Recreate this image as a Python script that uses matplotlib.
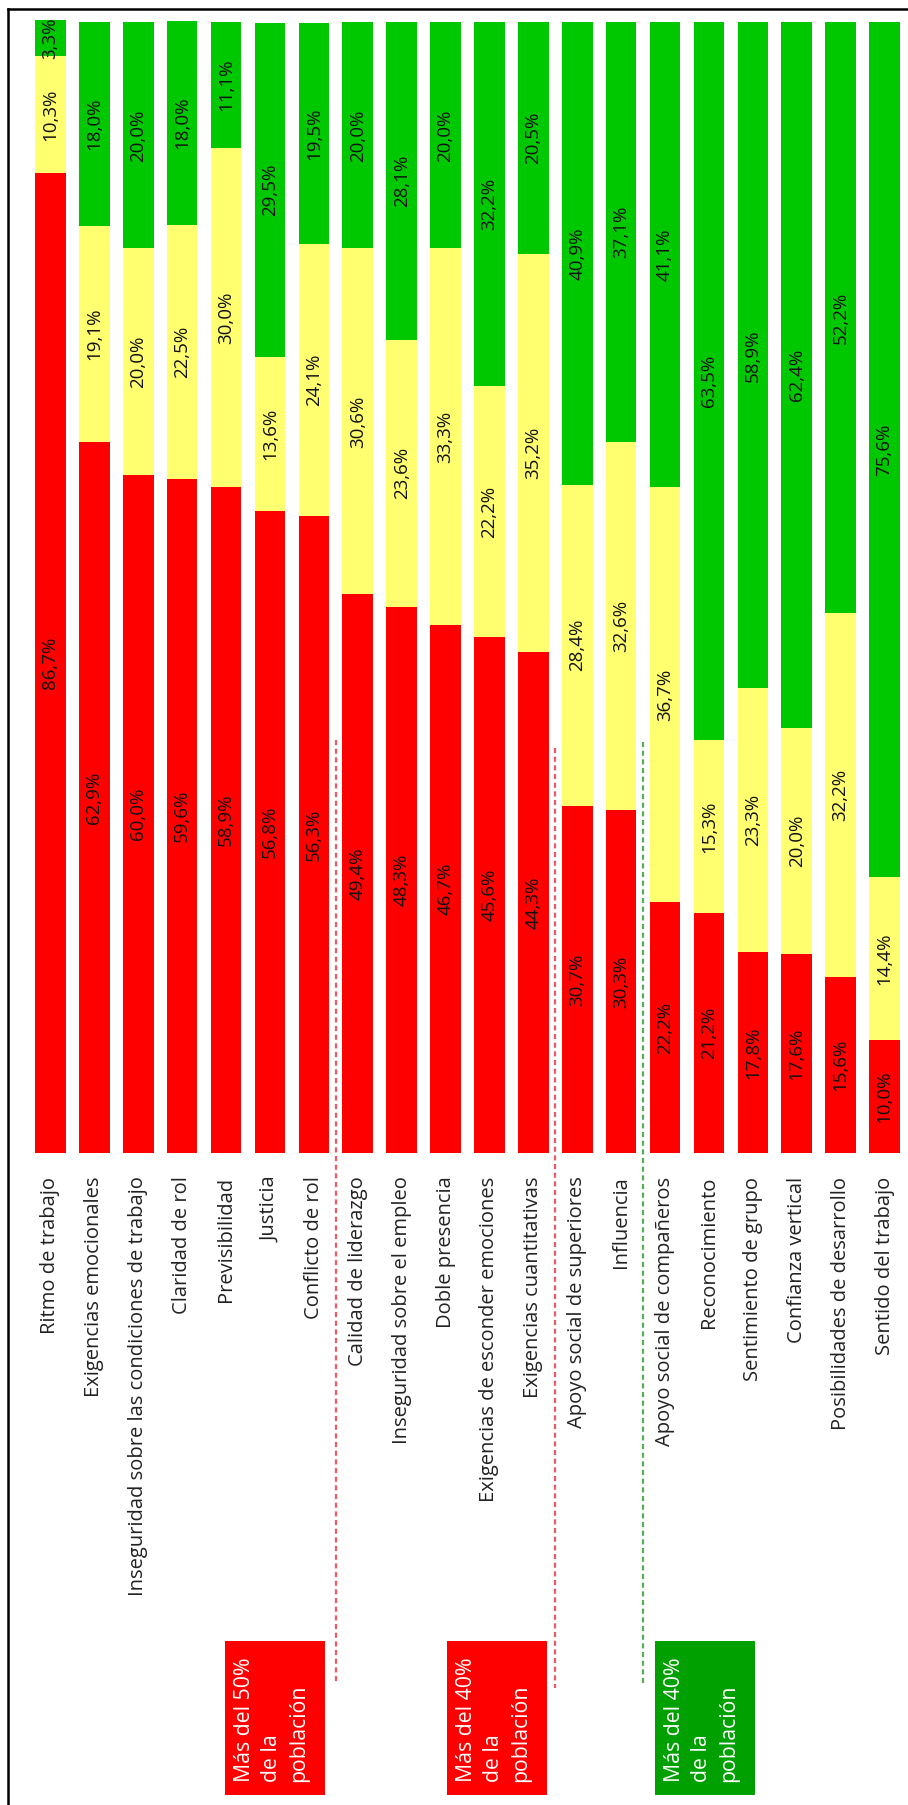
import matplotlib
matplotlib.use('Agg')
import matplotlib.pyplot as plt
from matplotlib.patches import Rectangle
from matplotlib.lines import Line2D

# datos (% de la población: rojo / amarillo / verde)
categorias = ['Ritmo de trabajo', 'Exigencias emocionales',
              'Inseguridad sobre las condiciones de trabajo', 'Claridad de rol',
              'Previsibilidad', 'Justicia', 'Conflicto de rol',
              'Calidad de liderazgo', 'Inseguridad sobre el empleo',
              'Doble presencia', 'Exigencias de esconder emociones',
              'Exigencias cuantitativas', 'Apoyo social de superiores',
              'Influencia', 'Apoyo social de compañeros', 'Reconocimiento',
              'Sentimiento de grupo', 'Confianza vertical',
              'Posibilidades de desarrollo', 'Sentido del trabajo']
rojo = [86.7, 62.9, 60.0, 59.6, 58.9, 56.8, 56.3, 49.4, 48.3, 46.7,
        45.6, 44.3, 30.7, 30.3, 22.2, 21.2, 17.8, 17.6, 15.6, 10.0]
amarillo = [10.3, 19.1, 20.0, 22.5, 30.0, 13.6, 24.1, 30.6, 23.6, 33.3,
            22.2, 35.2, 28.4, 32.6, 36.7, 15.3, 23.3, 20.0, 32.2, 14.4]
verde = [3.3, 18.0, 20.0, 18.0, 11.1, 29.5, 19.5, 20.0, 28.1, 20.0,
         32.2, 20.5, 40.9, 37.1, 41.1, 63.5, 58.9, 62.4, 52.2, 75.6]

# grupos: texto del recuadro, primer indice del grupo siguiente
grupos = ['Más del 50%\nde la\npoblación', 'Más del 40%\nde la\npoblación',
          'Más del 40%\nde la\npoblación']
limites = [7, 12, 14]

plt.rcParams['font.family'] = ['Open Sans', 'DejaVu Sans']

W, H = 908, 1805
fig = plt.figure(figsize=(W / 100, H / 100), dpi=100)


def fx(x):
    return x / W


def fy(y):
    return 1 - y / H


ax = fig.add_axes([fx(28.5), fy(1153), 878 / W, (1153 - 20) / H])
x = list(range(len(categorias)))
ancho = 0.695
base_verde = [r + a for r, a in zip(rojo, amarillo)]
b1 = ax.bar(x, rojo, ancho, color='#FF0000')
b2 = ax.bar(x, amarillo, ancho, bottom=rojo, color='#FFFF70')
b3 = ax.bar(x, verde, ancho, bottom=base_verde, color='#00C800')

for cont, vals in ((b1, rojo), (b2, amarillo), (b3, verde)):
    etiquetas = [f'{v:.1f}%'.replace('.', ',') for v in vals]
    ax.bar_label(cont, labels=etiquetas, label_type='center', rotation=90,
                 fontsize=13.5, color='#111111')

ax.set_xlim(-0.5, len(categorias) - 0.5)
ax.set_ylim(0, 100.2)
ax.set_xticks(x)
ax.set_xticklabels(categorias, rotation=90, fontsize=14.5, color='#222222')
ax.tick_params(axis='x', length=0, pad=17)
ax.set_yticks([])
for s in ax.spines.values():
    s.set_visible(False)


# lineas discontinuas entre grupos
def ay(y):
    return (1153 - y) / 1133


lineas = [(740, 1682, '#EE5A64'), (748, 1688, '#EE5A64'), (742, 1683, '#55B055')]
for lim, (y0, y1, c) in zip(limites, lineas):
    ax.plot([lim - 0.5, lim - 0.5], [ay(y0), ay(y1)], color=c, lw=1.6,
            linestyle=(0, (2.3, 1.6)), transform=ax.get_xaxis_transform(),
            clip_on=False)

# recuadros
cajas = [(225, '#FF0000'), (447, '#FF0000'), (655, '#00A000')]
for texto, (x0, c) in zip(grupos, cajas):
    fig.add_artist(Rectangle((fx(x0), fy(1795)), 100 / W, 154 / H,
                             transform=fig.transFigure, color=c, lw=0))
    fig.text(fx(x0 + 9), fy(1782), texto, rotation=90, rotation_mode='anchor',
             ha='left', va='top', color='white', fontsize=15.3, linespacing=1.38)

# marco
fig.add_artist(Line2D([fx(8), fx(8)], [fy(9), 0], color='black', lw=1.8,
                      transform=fig.transFigure))
fig.add_artist(Line2D([fx(8), 1], [fy(9), fy(9)], color='black', lw=1.8,
                      transform=fig.transFigure))

fig.savefig('out.png', dpi=100)
